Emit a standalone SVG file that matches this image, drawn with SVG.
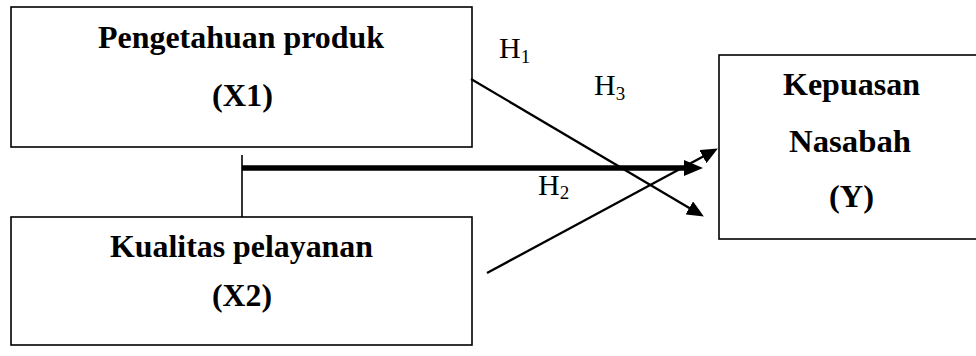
<svg xmlns="http://www.w3.org/2000/svg" width="976" height="356" viewBox="0 0 976 356">
  <style>
    .box { fill: #ffffff; stroke: #000000; stroke-width: 1.6; }
    .title { font-family: "Liberation Serif", "Times New Roman", serif; font-weight: bold; font-size: 32px; fill: #000000; }
    .hyp { font-family: "Liberation Serif", "Times New Roman", serif; font-size: 30px; fill: #000000; }
    .sub { font-size: 19px; }
    .thin { fill: none; stroke: #000000; stroke-width: 2.3; }
    .thick { fill: none; stroke: #000000; stroke-width: 5.5; }
    .tick { fill: none; stroke: #000000; stroke-width: 1.6; }
  </style>
  <defs>
    <marker id="arrowThin" markerUnits="userSpaceOnUse" markerWidth="18" markerHeight="15" refX="4" refY="7.5" orient="auto">
      <path d="M0,0 L17,7.5 L0,15 z" fill="#000000"/>
    </marker>
    <marker id="arrowThick" markerUnits="userSpaceOnUse" markerWidth="20" markerHeight="16" refX="5" refY="8" orient="auto">
      <path d="M0,0 L19,8 L0,16 z" fill="#000000"/>
    </marker>
  </defs>

  <rect width="976" height="356" fill="#ffffff"/>

  <!-- independent variable X1 -->
  <g id="node-x1">
    <rect class="box" x="11" y="7" width="461" height="140"/>
    <text class="title" x="98" y="48" textLength="286" lengthAdjust="spacingAndGlyphs">Pengetahuan produk</text>
    <text class="title" x="212" y="106" textLength="61" lengthAdjust="spacingAndGlyphs">(X1)</text>
  </g>

  <!-- independent variable X2 -->
  <g id="node-x2">
    <rect class="box" x="11" y="217" width="461" height="128"/>
    <text class="title" x="110" y="257" textLength="263" lengthAdjust="spacingAndGlyphs">Kualitas pelayanan</text>
    <text class="title" x="212" y="306" textLength="60" lengthAdjust="spacingAndGlyphs">(X2)</text>
  </g>

  <!-- dependent variable Y -->
  <g id="node-y">
    <rect class="box" x="719" y="55" width="260" height="184"/>
    <text class="title" x="783" y="95" textLength="137" lengthAdjust="spacingAndGlyphs">Kepuasan</text>
    <text class="title" x="789" y="152" textLength="122" lengthAdjust="spacingAndGlyphs">Nasabah</text>
    <text class="title" x="829" y="207" textLength="45" lengthAdjust="spacingAndGlyphs">(Y)</text>
  </g>

  <!-- hypothesis paths -->
  <g id="connectors">
    <!-- H1: X1 to Y -->
    <line class="thin" x1="471" y1="79" x2="692.7" y2="209.9" marker-end="url(#arrowThin)"/>
    <!-- H3: X2 to Y -->
    <line class="thin" x1="487" y1="273" x2="706.4" y2="154.7" marker-end="url(#arrowThin)"/>
    <!-- H2: joint effect of X1 and X2 -->
    <line class="tick" x1="242" y1="155" x2="242" y2="217"/>
    <line class="thick" x1="242" y1="168" x2="689" y2="168" marker-end="url(#arrowThick)"/>
  </g>

  <!-- hypothesis labels -->
  <g id="labels">
    <text class="hyp" x="499" y="58">H<tspan class="sub" dy="5">1</tspan></text>
    <text class="hyp" x="594" y="95">H<tspan class="sub" dy="5">3</tspan></text>
    <text class="hyp" x="538" y="195">H<tspan class="sub" dy="4">2</tspan></text>
  </g>
</svg>
